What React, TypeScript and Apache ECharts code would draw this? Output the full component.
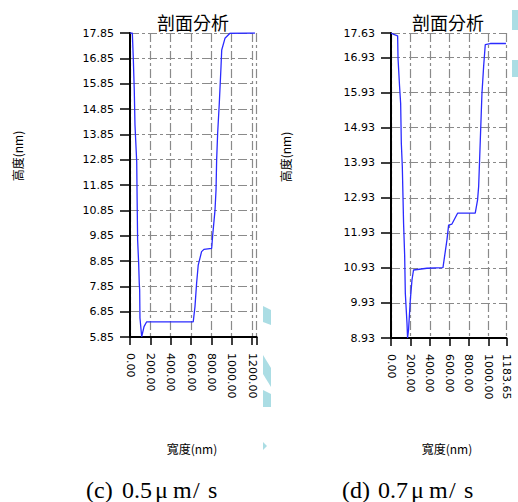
import React, { useEffect, useRef } from 'react';
import * as echarts from 'echarts';

// (c) 0.5 µm/s profile
const leftWidth = [0, 23, 33, 42, 49, 66, 70, 75, 85, 91, 95, 98, 115, 138, 164, 622, 639, 655, 671, 704, 727, 803, 812, 836, 846, 852, 862, 878, 895, 902, 934, 983, 1229];
const leftHeight = [17.85, 17.85, 16.78, 15.6, 14.22, 12.77, 11.3, 9.68, 8.77, 7.98, 7.7, 6.6, 5.86, 6.26, 6.45, 6.45, 7.05, 7.97, 8.69, 9.22, 9.31, 9.35, 9.81, 10.86, 11.65, 12.84, 13.89, 15.07, 16.52, 17.18, 17.64, 17.84, 17.85];

// (d) 0.7 µm/s profile
const rightWidth = [0, 27, 68, 72, 88, 99, 106, 116, 123, 129, 140, 147, 164, 170, 180, 198, 215, 231, 368, 533, 574, 591, 625, 683, 864, 888, 899, 916, 933, 950, 967, 1018, 1179];
const rightHeight = [17.63, 17.59, 17.55, 16.91, 16.1, 15.62, 14.48, 13.82, 12.96, 12.2, 11.3, 10.2, 9.35, 8.93, 9.16, 10.01, 10.58, 10.87, 10.92, 10.94, 11.73, 12.15, 12.18, 12.49, 12.49, 12.87, 13.25, 14.58, 15.91, 16.67, 17.3, 17.33, 17.33];

const leftYRange = [5.85, 17.85];
const rightYRange = [8.93, 17.63];
const leftXRange = [0, 1245];
const rightXRange = [0, 1183.65];
const xTickStep = 200;
const yTickStep = 1;

const titleText = '剖面分析';
const yName = '高度(nm)';
const xName = '寬度(nm)';
const captionLeft = ['(c)', '0.5', 'μ', 'm', '/', 's'];
const captionRight = ['(d)', '0.7', 'μ', 'm', '/', 's'];

const CJK = '"Noto Sans CJK TC", "Noto Sans CJK SC", sans-serif';
const NUM = '"DejaVu Sans", Verdana, sans-serif';
const SERIF = '"Liberation Serif", "DejaVu Serif", serif';
const CYAN = '#abdde4';

function zip(xs: number[], ys: number[]) {
  return xs.map((x, i) => [x, ys[i]]);
}

const dash = [9, 3, 3, 3];

function xAxisOpt(gridIndex: number, range: number[], labelAll: boolean) {
  return {
    type: 'value',
    gridIndex,
    min: range[0],
    max: range[1],
    interval: xTickStep,
    axisLine: { show: true, onZero: false, lineStyle: { color: '#000', width: 2 } },
    axisTick: { show: true, length: 8, lineStyle: { color: '#000', width: 1.5 } },
    axisLabel: {
      rotate: -90,
      margin: 16,
      fontFamily: NUM,
      fontSize: 11,
      color: '#000',
      formatter: (v: number) =>
        labelAll || Math.abs(v % xTickStep) < 1e-6 ? v.toFixed(2) : '',
    },
    splitLine: { show: true, lineStyle: { color: '#8a8a8a', type: dash, width: 1.2 } },
  };
}

function yAxisOpt(gridIndex: number, range: number[]) {
  return {
    type: 'value',
    gridIndex,
    min: range[0],
    max: range[1],
    interval: yTickStep,
    axisLine: { show: true, onZero: false, lineStyle: { color: '#000', width: 2 } },
    axisTick: { show: true, length: 10, lineStyle: { color: '#000', width: 1.5 } },
    axisLabel: {
      margin: 16,
      fontFamily: NUM,
      fontSize: 11,
      color: '#000',
      formatter: (v: number) => v.toFixed(2),
    },
    splitLine: { show: true, lineStyle: { color: '#8a8a8a', type: dash, width: 1.2 } },
  };
}

function caption(parts: string[], x0: number, y: number) {
  const offsets = [0, 36, 69, 87, 107, 122];
  return parts.map((p, i) => ({
    type: 'text',
    left: x0 + offsets[i],
    top: y,
    style: { text: p, font: `24px ${SERIF}`, fill: '#000' },
  }));
}

function poly(points: number[][]) {
  return { type: 'polygon', shape: { points }, style: { fill: CYAN } };
}

export default function App() {
  const ref = useRef<HTMLDivElement>(null);
  useEffect(() => {
    if (!ref.current) return;
    const chart = echarts.init(ref.current, null, { renderer: 'svg' });
    const option = {
      animation: false,
      backgroundColor: '#fff',
      grid: [
        { left: 130, top: 33, width: 126.6, height: 304 },
        { left: 391, top: 33, width: 115.4, height: 305 },
      ],
      xAxis: [xAxisOpt(0, leftXRange, false), xAxisOpt(1, rightXRange, true)],
      yAxis: [yAxisOpt(0, leftYRange), yAxisOpt(1, rightYRange)],
      series: [
        {
          type: 'line',
          xAxisIndex: 0,
          yAxisIndex: 0,
          data: zip(leftWidth, leftHeight),
          showSymbol: false,
          lineStyle: { color: '#2b2bff', width: 1.3 },
        },
        {
          type: 'line',
          xAxisIndex: 1,
          yAxisIndex: 1,
          data: zip(rightWidth, rightHeight),
          showSymbol: false,
          lineStyle: { color: '#2b2bff', width: 1.3 },
        },
      ],
      graphic: [
        { type: 'text', x: 193, y: 22, style: { text: titleText, font: `18px ${CJK}`, fill: '#000', align: 'center', verticalAlign: 'middle' } },
        { type: 'text', x: 448, y: 22, style: { text: titleText, font: `18px ${CJK}`, fill: '#000', align: 'center', verticalAlign: 'middle' } },
        { type: 'text', x: 17, y: 156, rotation: Math.PI / 2, style: { text: yName, font: `12px ${CJK}`, fill: '#000', align: 'center', verticalAlign: 'middle' } },
        { type: 'text', x: 285, y: 157, rotation: Math.PI / 2, style: { text: yName, font: `12px ${CJK}`, fill: '#000', align: 'center', verticalAlign: 'middle' } },
        { type: 'text', x: 192, y: 448, style: { text: xName, font: `12px ${CJK}`, fill: '#000', align: 'center', verticalAlign: 'middle' } },
        { type: 'text', x: 447, y: 448, style: { text: xName, font: `12px ${CJK}`, fill: '#000', align: 'center', verticalAlign: 'middle' } },
        ...caption(captionLeft, 86, 478),
        ...caption(captionRight, 342, 478),
        poly([[263, 306], [271, 310], [271, 325], [263, 322]]),
        poly([[263, 355], [271, 368], [271, 387], [263, 374]]),
        poly([[263, 390], [271, 394], [271, 407], [263, 407]]),
        poly([[263, 442], [267, 446], [263, 450]]),
        poly([[512, 10], [518, 10], [518, 30], [512, 30]]),
        poly([[512, 60], [518, 60], [518, 77], [512, 77]]),
      ],
    };
    chart.setOption(option as any);
    return () => chart.dispose();
  }, []);
  return (
    <div
      ref={ref}
      style={{ position: 'fixed', left: 0, top: 0, width: 518, height: 502, background: '#fff' }}
    />
  );
}
